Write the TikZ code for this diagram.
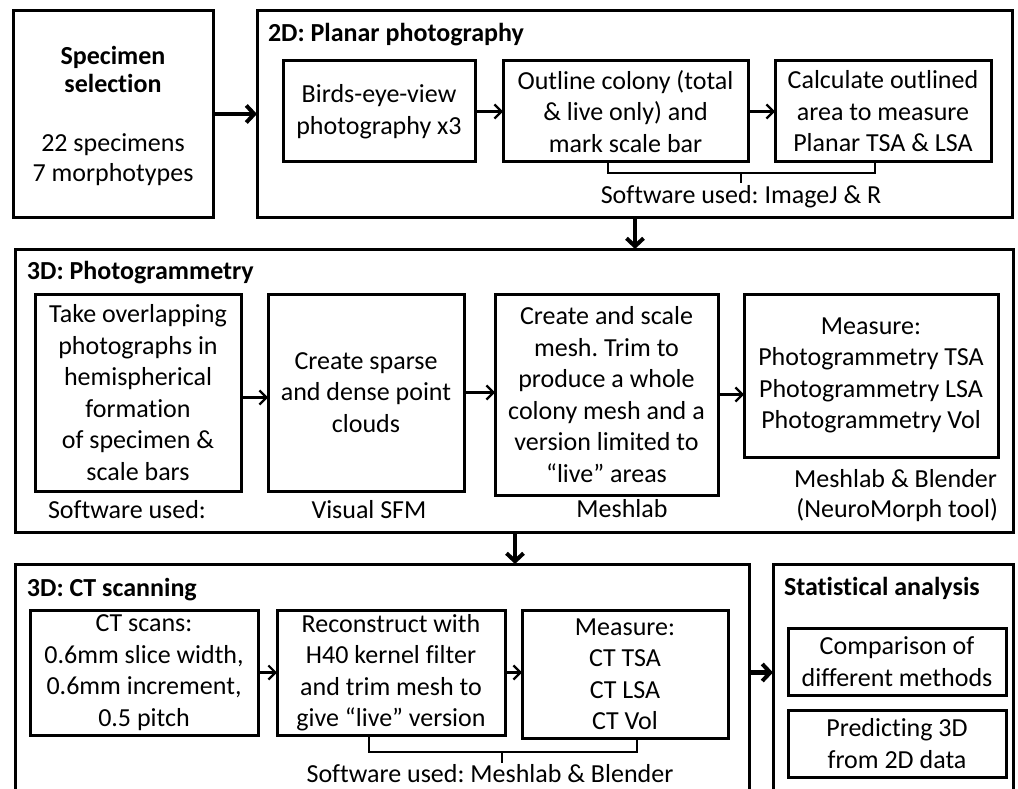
\documentclass[tikz,border=0pt]{standalone}
\usepackage{fontspec}
\setmainfont[Ligatures=NoCommon]{Carlito}
\usetikzlibrary{arrows.meta}
\frenchspacing
\begin{document}
\begin{tikzpicture}[x=1pt,y=-1pt,
  every node/.style={inner sep=0pt, outer sep=0pt, font=\fontsize{26}{31.5}\selectfont},
  frame/.style={draw, line width=3pt},
  box/.style={draw, line width=3pt, align=center},
  txt/.style={align=center},
  title/.style={anchor=base west, font=\fontsize{26}{30}\selectfont\bfseries},
  thin/.style={line width=2.2pt, -{Straight Barb[length=7pt,width=14pt,line width=2.2pt]}},
  bigarrow/.style={line width=4.5pt, -{Straight Barb[length=8pt,width=17pt,line width=4pt]}},
  brack/.style={line width=2.6pt}]
\clip (0,0) rectangle (1018,789);
\fill[white] (0,0) rectangle (1018,789);

% Specimen selection
\node[frame, minimum width=200pt, minimum height=206pt] (spec) at (113,114) {};
\node[txt, font=\fontsize{26}{28}\selectfont\bfseries] (spect) at (113,69) {Specimen\\selection};
\node[txt, font=\fontsize{26}{30}\selectfont] (specn) at (113,160) {22 specimens\\7 morphotypes};

% 2D planar
\node[frame, minimum width=755pt, minimum height=206pt] (planar) at (634.5,114) {};
\node[title] (planart) at (268,42) {2D: Planar photography};
\node[box, minimum width=192pt, minimum height=101pt] (birds) at (379,111.5) {Birds-eye-view\\photography x3};
\node[box, minimum width=245pt, minimum height=101pt] (outline) at (625.5,111.5) {Outline colony (total\\\& live only) and\\mark scale bar};
\node[box, minimum width=216pt, minimum height=101pt] (calc) at (883,111.5) {Calculate outlined\\area to measure\\Planar TSA \& LSA};
\coordinate (pb1) at (608,162);
\coordinate (pb2) at (875,162);
\coordinate (pbm) at (741,173);
\draw[brack] (pb1) -- (pb1 |- pbm) -- (pb2 |- pbm) -- (pb2);
\draw[brack] (pbm) -- ++(0,10) coordinate (pbt);
\node[anchor=base] (planars) at (741,204) {Software used: ImageJ \& R};

\draw[bigarrow] (spec) -- (planar);
\draw[thin] (birds) -- (outline);
\draw[thin] (outline) -- (calc);

% 3D photogrammetry
\node[frame, minimum width=998pt, minimum height=283pt] (photo) at (514,390.5) {};
\node[title] (photot) at (27,279) {3D: Photogrammetry};
\node[box, minimum width=206pt, minimum height=197pt] (take) at (138,392.5) {Take overlapping\\photographs in\\hemispherical\\formation\\of specimen \&\\scale bars};
\node[box, minimum width=196pt, minimum height=197pt] (sparse) at (366,392.5) {Create sparse\\and dense point\\clouds};
\node[box, minimum width=223pt, minimum height=201pt] (mesh) at (606.5,394.5) {Create and scale\\mesh. Trim to\\produce a whole\\colony mesh and a\\version limited to\\“live” areas};
\node[box, minimum width=254pt, minimum height=163pt] (meas) at (871,375.5) {Measure:\\Photogrammetry TSA\\Photogrammetry LSA\\Photogrammetry Vol};
\node[anchor=base] (sw1) at (127,518) {Software used:};
\node[anchor=base] (sw2) at (369,518) {Visual SFM};
\node[anchor=base] (sw3) at (622,517) {Meshlab};
\node[anchor=base east] (sw4) at (997,487) {Meshlab \& Blender};
\node[anchor=base east] (sw5) at (998,517) {(NeuroMorph tool)};

\draw[bigarrow] (planar.south -| 635,0) -- (photo.north -| 635,0);
\draw[thin] ([yshift=-5pt]take.east) -- ([yshift=-5pt]take.east -| sparse.west);
\draw[thin] (sparse.east) -- (sparse.east -| mesh.west);
\draw[thin] (mesh.east) -- (mesh.east -| meas.west);

% 3D CT scanning
\node[frame, minimum width=734pt, minimum height=260pt] (ct) at (382,694) {};
\node[title] (ctt) at (27,596) {3D: CT scanning};
\node[box, minimum width=228pt, minimum height=125pt] (scans) at (144,672.5) {CT scans:\\0.6mm slice width,\\0.6mm increment,\\0.5 pitch};
\node[box, minimum width=228pt, minimum height=125pt] (recon) at (391,672.5) {Reconstruct with\\H40 kernel filter\\and trim mesh to\\give “live” version};
\node[box, minimum width=206pt, minimum height=128pt] (mct) at (625,674) {Measure:\\CT TSA\\CT LSA\\CT Vol};
\coordinate (cb1) at (369,735);
\coordinate (cb2) at (637,738);
\coordinate (cbm) at (502,752);
\draw[brack] (cb1) -- (cb1 |- cbm) -- (cb2 |- cbm) -- (cb2);
\draw[brack] (cbm) -- ++(0,11) coordinate (cbt);
\node[anchor=base] (cts) at (490,782) {Software used: Meshlab \& Blender};

\draw[bigarrow] (photo.south -| 515,0) -- (ct.north -| 515,0);
\draw[thin] (scans) -- (recon);
\draw[thin] (recon.east) -- (recon.east -| mct.west);

% Statistical analysis
\node[frame, minimum width=240pt, minimum height=260pt] (stat) at (893,694) {};
\node[title] (statt) at (784,595) {Statistical analysis};
\node[box, minimum width=218pt, minimum height=67pt] (comp) at (897,661.5) {Comparison of\\different methods};
\node[box, minimum width=218pt, minimum height=67pt] (pred) at (897,743.5) {Predicting 3D\\from 2D data};

\draw[bigarrow] (scans.east -| ct.east) -- (scans.east -| stat.west);
\end{tikzpicture}
\end{document}
